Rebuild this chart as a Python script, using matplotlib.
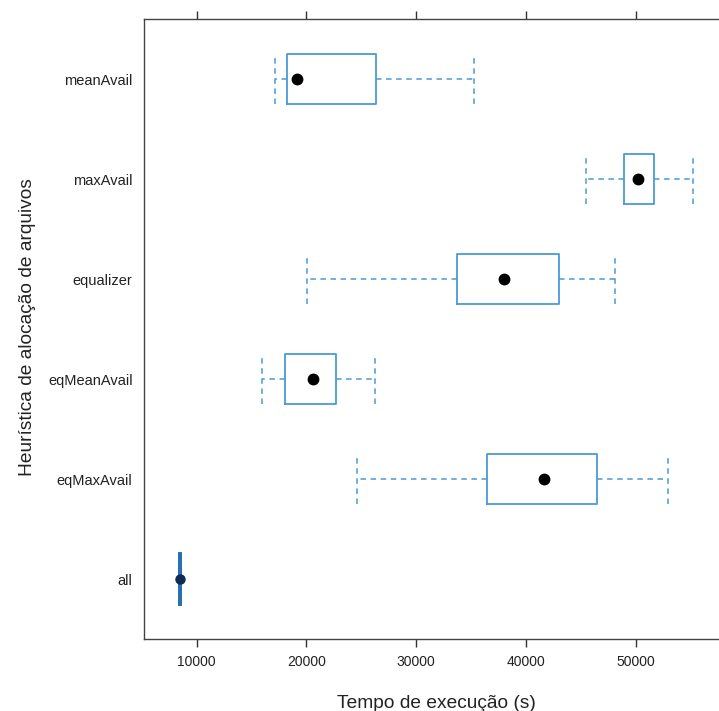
import matplotlib
matplotlib.use("Agg")
import matplotlib.pyplot as plt

plt.rcParams['font.family'] = ['Liberation Sans', 'DejaVu Sans']

# Data (bottom to top)
categories = ["all", "eqMaxAvail", "eqMeanAvail", "equalizer", "maxAvail", "meanAvail"]
whisker_low = [8498, 24580, 15934, 20056, 45420, 17126]
q1 = [8498, 36410, 18027, 33707, 48906, 18200]
median = [8498, 41625, 20575, 37958, 50180, 19137]
q3 = [8498, 46422, 22696, 42990, 51636, 26363]
whisker_high = [8498, 52938, 26272, 48087, 55186, 35273]
xticks = [10000, 20000, 30000, 40000, 50000]

stats = []
for name, lo, a, m, b, hi in zip(categories, whisker_low, q1, median, q3, whisker_high):
    stats.append(dict(label=name, whislo=lo, q1=a, med=m, q3=b, whishi=hi, mean=m, fliers=[]))

fig = plt.figure(figsize=(7.19, 7.11), dpi=100)
ax = fig.add_axes([0.1999, 0.1006, 0.8001, 0.872])

blue = '#4a9ad8'
dash = (0, (3.6, 3.0))
res = ax.bxp(stats, positions=range(1, len(categories) + 1), widths=0.5, capwidths=0.5,
             orientation='horizontal', showmeans=True, showfliers=False,
             boxprops=dict(color=blue, linewidth=1.3),
             whiskerprops=dict(color=blue, linewidth=1.1, linestyle=dash),
             capprops=dict(color=blue, linewidth=1.1, linestyle=dash),
             medianprops=dict(linestyle='none'),
             meanprops=dict(marker='o', markerfacecolor='black', markeredgecolor='black',
                            markersize=7.5, linestyle='none'))

# degenerate box for "all": emphasize as solid dark line
res['boxes'][0].set_color('#2a6fb3')
res['boxes'][0].set_linewidth(2.6)
for c in res['caps'][0:2]:
    c.set_color('#2a6fb3')
    c.set_linestyle('-')
    c.set_linewidth(2.6)
res['means'][0].set_markerfacecolor('#0e2a55')
res['means'][0].set_markeredgecolor('#0e2a55')
res['means'][0].set_markersize(6.5)

ax.set_xlim(5195, 57552)
ax.set_ylim(0.4, 6.6)
ax.set_xticks(xticks)
ax.set_xticklabels([str(t) for t in xticks], fontsize=10, color='#222222')
ax.set_yticks(range(1, len(categories) + 1))
ax.set_yticklabels(categories, fontsize=10.5, color='#222222')
ax.tick_params(axis='x', direction='out', length=6, width=1, color='#333333', top=True,
               labeltop=False, pad=5)
ax.tick_params(axis='y', length=0, pad=8)

for s in ['left', 'bottom', 'top']:
    ax.spines[s].set_color('#444444')
    ax.spines[s].set_linewidth(1.0)
ax.spines['right'].set_visible(False)

fig.text(436.7 / 719, 1 - 703 / 711, 'Tempo de execução (s)', fontsize=13.8,
         ha='center', va='center', color='#222222')
fig.text(27.7 / 719, 1 - 327 / 711, 'Heurística de alocação de arquivos', fontsize=13.8,
         ha='center', va='center', rotation=90, color='#222222')

fig.savefig('out.png', dpi=100)
